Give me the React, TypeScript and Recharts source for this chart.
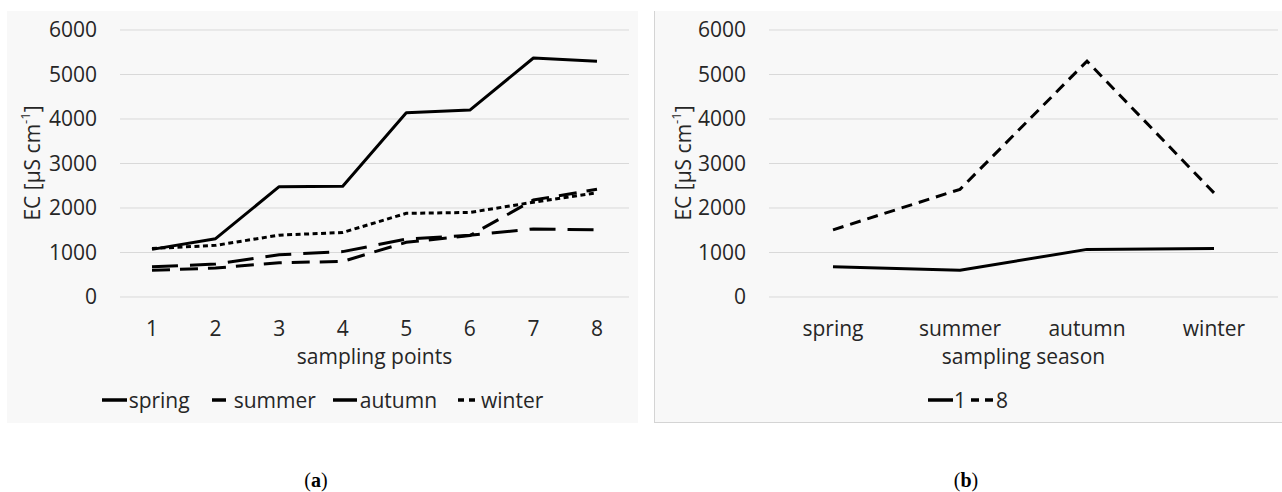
import React from 'react';
import { LineChart, Line, XAxis, YAxis, CartesianGrid, Legend, Label } from 'recharts';

const FONT = "'Open Sans', 'Noto Sans', sans-serif";
const TEXT = '#262626';
const GRID = '#d9d9d9';
const PANEL = '#f8f8f8';
const FS = 21;

// (a) EC along the sampling points, one line per season
const samplingPoints = ['1', '2', '3', '4', '5', '6', '7', '8'];
const springEC = [1070, 1310, 2480, 2490, 4140, 4200, 5370, 5300];
const summerEC = [680, 740, 950, 1020, 1300, 1390, 1530, 1510];
const autumnEC = [600, 650, 770, 800, 1230, 1380, 2180, 2420];
const winterEC = [1090, 1160, 1390, 1450, 1880, 1900, 2130, 2340];

// (b) EC through the seasons at sampling points 1 and 8
const seasons = ['spring', 'summer', 'autumn', 'winter'];
const point1EC = [680, 600, 1070, 1090];
const point8EC = [1510, 2420, 5300, 2340];

const yTicks = [0, 1000, 2000, 3000, 4000, 5000, 6000];

const pointRows = samplingPoints.map((p, i) => ({
  point: p,
  spring: springEC[i],
  summer: summerEC[i],
  autumn: autumnEC[i],
  winter: winterEC[i],
}));

const seasonRows = seasons.map((s, i) => ({
  season: s,
  p1: point1EC[i],
  p8: point8EC[i],
}));

type Marker = { x1: number; x2: number; dash?: string };

const markers: Record<string, Marker> = {
  spring: { x1: 0, x2: 25 },
  summer: { x1: 5, x2: 19 },
  autumn: { x1: 0, x2: 24 },
  winter: { x1: 4, x2: 21, dash: '6 5' },
  '1': { x1: 0, x2: 25 },
  '8': { x1: 1, x2: 23, dash: '8 6' },
};

const makeLegend = (order: string[], gap: number, textGap: number) => (props: any) => {
  const payload = [...(props.payload || [])].sort(
    (a: any, b: any) => order.indexOf(a.value) - order.indexOf(b.value)
  );
  return (
    <div
      style={{
        display: 'flex',
        justifyContent: 'center',
        alignItems: 'center',
        height: 26,
        gap,
        fontFamily: FONT,
        fontSize: FS,
        color: TEXT,
        lineHeight: '26px',
      }}
    >
      {payload.map((item: any) => {
        const m = markers[item.value];
        return (
          <div key={item.value} style={{ display: 'flex', alignItems: 'center' }}>
            <svg width={25} height={10} style={{ display: 'block' }}>
              <line
                x1={m.x1}
                x2={m.x2}
                y1={5}
                y2={5}
                stroke="#000"
                strokeWidth={3.5}
                strokeDasharray={m.dash}
              />
            </svg>
            <span style={{ marginLeft: textGap }}>{item.value}</span>
          </div>
        );
      })}
    </div>
  );
};

const YTitle = ({ cx, cy }: { cx: number; cy: number }) => (
  <text
    x={cx}
    y={cy}
    transform={`rotate(-90 ${cx} ${cy})`}
    textAnchor="middle"
    dominantBaseline="central"
    fill={TEXT}
    fontSize={FS}
    fontFamily={FONT}
  >
    EC [µS cm
    <tspan dy={-7} fontSize={13}>
      -1
    </tspan>
    <tspan dy={7}>]</tspan>
  </text>
);

const XTitle = (props: any) => {
  const vb = props.viewBox;
  return (
    <text
      x={vb.x + vb.width / 2}
      y={vb.y + 67}
      textAnchor="middle"
      fill={TEXT}
      fontSize={FS}
      fontFamily={FONT}
    >
      {props.text}
    </text>
  );
};

const tickStyle = { fill: TEXT, fontSize: FS, fontFamily: FONT };

const Caption = ({ left, letter }: { left: number; letter: string }) => (
  <div
    style={{
      position: 'absolute',
      left: left - 30,
      top: 468,
      width: 60,
      height: 24,
      lineHeight: '24px',
      textAlign: 'center',
      fontFamily: "'Liberation Serif', 'DejaVu Serif', serif",
      fontSize: 20,
      color: '#000',
    }}
  >
    (<b>{letter}</b>)
  </div>
);

export default function App() {
  return (
    <div
      style={{
        position: 'absolute',
        left: 0,
        top: 0,
        width: 1282,
        height: 492,
        background: '#fff',
        overflow: 'hidden',
      }}
    >
      <div style={{ position: 'absolute', left: 7, top: 11, width: 631, height: 412, background: PANEL }}>
        <LineChart width={631} height={412} data={pointRows} margin={{ top: 19, right: 9, bottom: 0, left: 0 }}>
          <CartesianGrid vertical={false} stroke={GRID} strokeWidth={1} />
          <XAxis
            dataKey="point"
            axisLine={false}
            tickLine={false}
            tickSize={0}
            tickMargin={24}
            height={126}
            padding={{ left: 32, right: 32 }}
            tick={tickStyle}
            interval={0}
          >
            <Label content={(p: any) => <XTitle {...p} text="sampling points" />} />
          </XAxis>
          <YAxis
            domain={[0, 6000]}
            ticks={yTicks}
            axisLine={false}
            tickLine={false}
            tickSize={0}
            tickMargin={23}
            width={113}
            tick={tickStyle}
            interval={0}
          >
            <Label content={() => <YTitle cx={25} cy={152} />} />
          </YAxis>
          <Line type="linear" dataKey="spring" name="spring" stroke="#000" strokeWidth={3} dot={false} activeDot={false} strokeLinejoin="round" isAnimationActive={false} />
          <Line type="linear" dataKey="summer" name="summer" stroke="#000" strokeWidth={3} strokeDasharray="26 12" dot={false} activeDot={false} isAnimationActive={false} />
          <Line type="linear" dataKey="autumn" name="autumn" stroke="#000" strokeWidth={3} strokeDasharray="18 10" dot={false} activeDot={false} isAnimationActive={false} />
          <Line type="linear" dataKey="winter" name="winter" stroke="#000" strokeWidth={3} strokeDasharray="5 3.5" dot={false} activeDot={false} isAnimationActive={false} />
          <Legend
            layout="horizontal"
            verticalAlign="middle"
            align="center"
            content={makeLegend(seasons, 17, 2)}
            wrapperStyle={{ top: 376, left: 0, width: 631, height: 26 }}
          />
        </LineChart>
      </div>

      <div
        style={{
          position: 'absolute',
          left: 654,
          top: 11,
          width: 628,
          height: 412,
          background: PANEL,
          boxShadow: 'inset 1px 0 0 #d4d4d4, inset 0 -1px 0 #d4d4d4',
        }}
      >
        <LineChart width={628} height={412} data={seasonRows} margin={{ top: 19, right: 4, bottom: 0, left: 0 }}>
          <CartesianGrid vertical={false} stroke={GRID} strokeWidth={1} />
          <XAxis
            dataKey="season"
            axisLine={false}
            tickLine={false}
            tickSize={0}
            tickMargin={24}
            height={126}
            padding={{ left: 64, right: 64 }}
            tick={tickStyle}
            interval={0}
          >
            <Label content={(p: any) => <XTitle {...p} text="sampling season" />} />
          </XAxis>
          <YAxis
            domain={[0, 6000]}
            ticks={yTicks}
            axisLine={false}
            tickLine={false}
            tickSize={0}
            tickMargin={23}
            width={115}
            tick={tickStyle}
            interval={0}
          >
            <Label content={() => <YTitle cx={29} cy={152} />} />
          </YAxis>
          <Line type="linear" dataKey="p1" name="1" stroke="#000" strokeWidth={3} dot={false} activeDot={false} strokeLinejoin="round" isAnimationActive={false} />
          <Line type="linear" dataKey="p8" name="8" stroke="#000" strokeWidth={3} strokeDasharray="11 7" dot={false} activeDot={false} isAnimationActive={false} />
          <Legend
            layout="horizontal"
            verticalAlign="middle"
            align="center"
            content={makeLegend(['1', '8'], 4, 1)}
            wrapperStyle={{ top: 376, left: 0, width: 628, height: 26 }}
          />
        </LineChart>
      </div>

      <Caption left={316} letter="a" />
      <Caption left={966} letter="b" />
    </div>
  );
}
